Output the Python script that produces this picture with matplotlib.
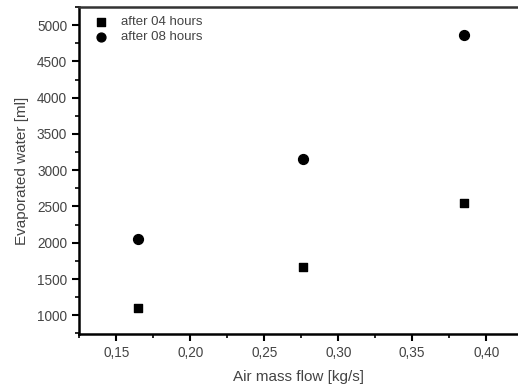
import matplotlib.pyplot as plt
from matplotlib.ticker import MultipleLocator, FuncFormatter

plt.rcParams['font.family'] = ['Liberation Sans', 'DejaVu Sans']

air_flow = [0.165, 0.276, 0.385]
water_4h = [1100, 1670, 2550]
water_8h = [2050, 3150, 4870]

fig = plt.figure(figsize=(5.18, 3.89), dpi=100)
ax = fig.add_axes([79 / 518, 55 / 389, 439 / 518, 327 / 389])

ax.scatter(air_flow, water_4h, marker='s', s=40, color='black', label='after 04 hours', zorder=3)
ax.scatter(air_flow, water_8h, marker='o', s=50, color='black', label='after 08 hours', zorder=3)

ax.set_xlim(0.1248, 0.4215)
ax.set_ylim(742, 5250)

ax.xaxis.set_major_locator(MultipleLocator(0.05))
ax.xaxis.set_minor_locator(MultipleLocator(0.025))
ax.yaxis.set_major_locator(MultipleLocator(500))
ax.yaxis.set_minor_locator(MultipleLocator(250))
ax.xaxis.set_major_formatter(FuncFormatter(lambda v, p: f"{v:.2f}".replace('.', ',')))

txt = '#444444'
ax.tick_params(which='major', direction='out', length=5, width=1.5, labelsize=9.8, labelcolor=txt)
ax.tick_params(which='minor', direction='out', length=3, width=1.2)
for side in ['left', 'bottom', 'top']:
    ax.spines[side].set_linewidth(1.8)
ax.spines['top'].set_color('#333333')
ax.spines['right'].set_visible(False)

ax.set_xlabel('Air mass flow [kg/s]', fontsize=11, color=txt, labelpad=7)
ax.set_ylabel('Evaporated water [ml]', fontsize=11, color=txt, labelpad=6)

ax.legend(loc='upper left', frameon=False, fontsize=9.5, labelcolor=txt,
          handletextpad=0.5, borderaxespad=0.3, labelspacing=0.2, markerscale=0.9)

fig.savefig('out.png', dpi=100)
